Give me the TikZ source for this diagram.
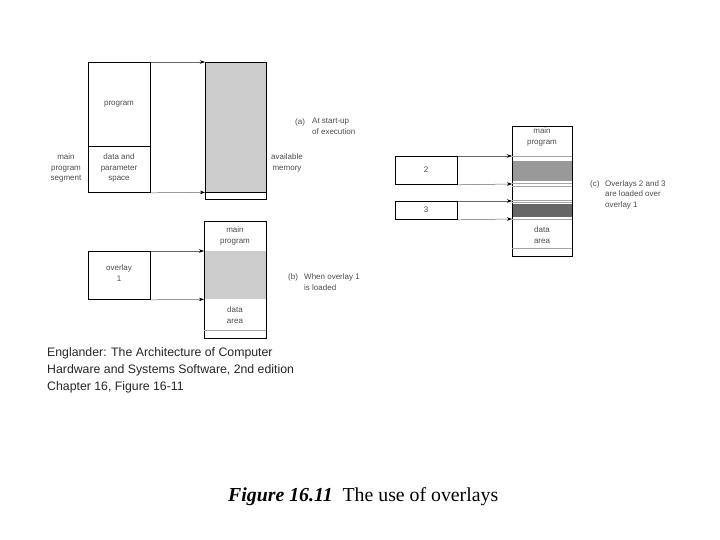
\documentclass[tikz,border=0pt]{standalone}
\usepackage{fontspec}
\setmainfont{Liberation Serif}
\setsansfont{Liberation Sans}
\usetikzlibrary{arrows.meta}
\definecolor{lgray}{gray}{0.80}
\definecolor{mgray}{gray}{0.60}
\definecolor{dgray}{gray}{0.40}
\definecolor{txtgray}{gray}{0.30}
\tikzset{
  blk/.style={draw=black, line width=0.8pt, inner sep=0pt, anchor=north west},
  fillblk/.style={inner sep=0pt, anchor=north west, draw=none},
  conn/.style={draw=gray!80!black, line width=0.5pt, -{Stealth[length=5pt,width=3.5pt,black]}},
  sep/.style={draw=gray!70, line width=0.5pt},
  lbl/.style={font=\sffamily\fontsize{8}{10.5}\selectfont, text=txtgray, align=center, inner sep=0pt},
  lbll/.style={font=\sffamily\fontsize{8}{10}\selectfont, text=txtgray, align=left, inner sep=0pt, anchor=west},
}
\begin{document}
\begin{tikzpicture}[x=1pt,y=-1pt]
\useasboundingbox[fill=white] (0,0) rectangle (720,540);

% ---------- panel (a) ----------
\node[fillblk, fill=lgray, minimum width=61pt, minimum height=130pt] (availA) at (205,62) {};
\node[blk, minimum width=61pt, minimum height=137pt] (memA) at (205,62) {};
\draw[black, line width=0.6pt] (availA.south west) -- (availA.south east);
\node[blk, minimum width=62pt, minimum height=84pt] (progA) at (88,62) {};
\node[blk, minimum width=62pt, minimum height=46pt] (dataA) at (88,146) {};
\draw[conn] (progA.north east) -- (availA.north west);
\draw[conn] (dataA.south east) -- (availA.south west);
\node[lbl] (tprog) at (119,104) {program};
\node[lbl] (tdata) at (119,168) {data and\\parameter\\space};
\node[lbl] (tmain) at (66,168) {main\\program\\segment};
\node[lbl] (tavail) at (287,163) {available\\memory};
\node[lbll] (ta1) at (295,122) {(a)};
\node[lbll] (ta2) at (312,122) {At start-up};
\node[lbll] (ta3) at (312,132) {of execution};

% ---------- panel (b) ----------
\node[fillblk, fill=lgray, minimum width=62pt, minimum height=48pt] (ovB) at (204,251) {};
\node[blk, minimum width=62pt, minimum height=117pt] (memB) at (204,221) {};
\draw[sep] (204,330) -- (266,330);
\node[blk, minimum width=62pt, minimum height=48pt] (ov1) at (88,251) {};
\draw[conn] (ov1.north east) -- (ovB.north west);
\draw[conn] (ov1.south east) -- (ovB.south west);
\node[lbl] (tov1) at (119,273) {overlay\\1};
\node[lbl] (tmpB) at (235,236) {main\\program};
\node[lbl] (tdaB) at (235,315) {data\\area};
\node[lbll] (tb1) at (288,277) {(b)};
\node[lbll] (tb2) at (304,277) {When overlay 1};
\node[lbll] (tb3) at (304,288) {is loaded};

% ---------- panel (c) ----------
\node[fillblk, fill=mgray, minimum width=60pt, minimum height=20pt] (g2) at (512,161) {};
\node[fillblk, fill=dgray, minimum width=60pt, minimum height=13pt] (g3) at (512,204) {};
\node[blk, minimum width=60pt, minimum height=130pt] (memC) at (512,126) {};
\draw[sep] (512,156) -- (572,156);
\draw[sep] (512,183) -- (572,183);
\draw[sep] (512,186) -- (572,186);
\draw[sep] (512,200) -- (572,200);
\draw[sep] (512,202) -- (572,202);
\draw[sep] (512,219) -- (572,219);
\draw[sep] (512,248) -- (572,248);
\coordinate (c1) at (512,156);
\coordinate (c2) at (512,184);
\coordinate (c3) at (512,201);
\coordinate (c4) at (512,219);
\node[blk, minimum width=62pt, minimum height=28pt] (box2) at (395,156) {};
\node[blk, minimum width=62pt, minimum height=18pt] (box3) at (395,201) {};
\draw[conn] (box2.north east) -- (c1);
\draw[conn] (box2.south east) -- (c2);
\draw[conn] (box3.north east) -- (c3);
\draw[conn] (box3.south east) -- (c4);
\node[lbl] (t2) at (426,170) {2};
\node[lbl] (t3) at (426,210) {3};
\node[lbl] (tmpC) at (542,137) {main\\program};
\node[lbl] (tdaC) at (542,235) {data\\area};
\node[lbll] (tc1) at (590,184) {(c)};
\node[lbll] (tc2) at (605,184) {Overlays 2 and 3};
\node[lbll] (tc3) at (605,194) {are loaded over};
\node[lbll] (tc4) at (605,205) {overlay 1};

% ---------- credit and caption ----------
\node[font=\sffamily\fontsize{12.3}{17}\selectfont, text=black!85, align=left, anchor=north west, inner sep=0pt] (credit) at (47,347)
  {Englander: The Architecture of Computer\\Hardware and Systems Software, 2nd edition\\Chapter 16, Figure 16-11};
\node[font=\fontsize{19.8}{22}\selectfont, anchor=base west, inner sep=0pt] (caption) at (228,501)
  {\textbf{\textit{Figure 16.11}}\ \ The use of overlays};
\end{tikzpicture}
\end{document}
